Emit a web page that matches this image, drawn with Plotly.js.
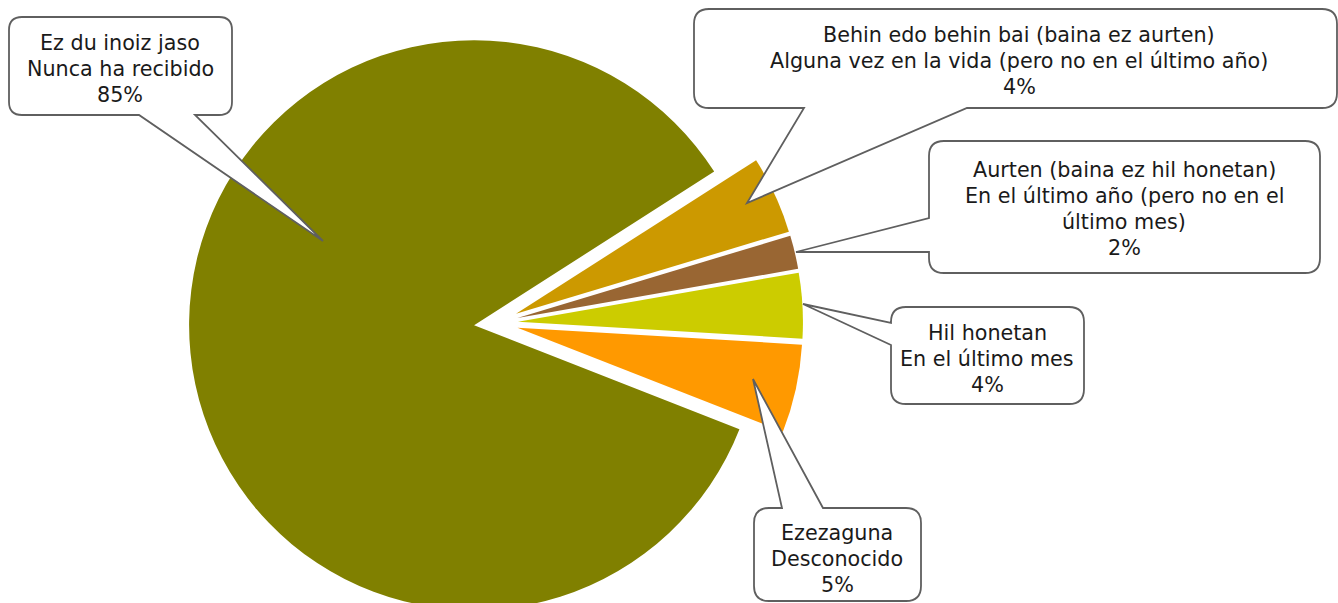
<!DOCTYPE html>
<html>
<head>
<meta charset="utf-8">
<script src="https://cdn.plot.ly/plotly-3.0.1.min.js"></script>
<style>
html,body{margin:0;padding:0;overflow:hidden;background:#fff;}
#chart{width:1338px;height:630px;}
</style>
</head>
<body>
<div id="chart"></div>
<script>
// ---- data ----
const labelsEu = ['Behin edo behin bai (baina ez aurten)', 'Aurten (baina ez hil honetan)', 'Hil honetan', 'Ezezaguna', 'Ez du inoiz jaso'];
const labelsEs = ['Alguna vez en la vida (pero no en el último año)', 'En el último año (pero no en el<br>último mes)', 'En el último mes', 'Desconocido', 'Nunca ha recibido'];
const shares = [4.4, 1.9, 3.7, 5.0, 85.0];
const pctLabels = ['4%', '2%', '4%', '5%', '85%'];

// ---- styles ----
const sliceColors = ['#CC9900', '#996633', '#CCCC00', '#FF9900', '#808000'];

// ---- layout geometry (pixels) ----
const FIG_W = 1338, FIG_H = 630, M_T = 16, M_B = 0;
const PLOT_H = FIG_H - M_T - M_B;
const LINE_GAP = 26;
const px = x => x / FIG_W;
const py = y => 1 - (y - M_T) / PLOT_H;

const bubbles = [
  {x0: 694, y0: 9,   x1: 1337, y1: 108, r: 15, side: 'bottom', p0: 804, p1: 967, tip: [747, 203], cx: 1019, cy: 61},
  {x0: 929, y0: 141, x1: 1320, y1: 273, r: 15, side: 'left',   p0: 218, p1: 252, tip: [796, 252], cx: 1124, cy: 208.5},
  {x0: 891, y0: 307, x1: 1084, y1: 404, r: 15, side: 'left',   p0: 323, p1: 345, tip: [803, 304], cx: 987, cy: 358.5},
  {x0: 754, y0: 508, x1: 921,  y1: 601, r: 15, side: 'top',    p0: 782, p1: 823, tip: [753, 379], cx: 837, cy: 558.5},
  {x0: 9,   y0: 17,  x1: 232,  y1: 115, r: 13, side: 'bottom', p0: 139, p1: 195, tip: [323, 241], cx: 120, cy: 69}
];

function pt(x, y) { return px(x).toFixed(5) + ',' + py(y).toFixed(5); }

function bubblePath(b) {
  const {x0, y0, x1, y1, r, side, p0, p1, tip} = b;
  let d = 'M' + pt(x0 + r, y0);
  if (side === 'top') d += ' L' + pt(p0, y0) + ' L' + pt(tip[0], tip[1]) + ' L' + pt(p1, y0);
  d += ' L' + pt(x1 - r, y0) + ' Q' + pt(x1, y0) + ' ' + pt(x1, y0 + r);
  d += ' L' + pt(x1, y1 - r) + ' Q' + pt(x1, y1) + ' ' + pt(x1 - r, y1);
  if (side === 'bottom') d += ' L' + pt(p1, y1) + ' L' + pt(tip[0], tip[1]) + ' L' + pt(p0, y1);
  d += ' L' + pt(x0 + r, y1) + ' Q' + pt(x0, y1) + ' ' + pt(x0, y1 - r);
  if (side === 'left') d += ' L' + pt(x0, p1) + ' L' + pt(tip[0], tip[1]) + ' L' + pt(x0, p0);
  d += ' L' + pt(x0, y0 + r) + ' Q' + pt(x0, y0) + ' ' + pt(x0 + r, y0) + ' Z';
  return d;
}

const shapes = bubbles.map(b => ({
  type: 'path', xref: 'paper', yref: 'paper', layer: 'above',
  path: bubblePath(b),
  fillcolor: '#ffffff',
  line: {color: '#5f5f5f', width: 1.8}
}));

const annotations = [];
bubbles.forEach((b, i) => {
  const lines = [labelsEu[i]].concat(labelsEs[i].split('<br>'), [pctLabels[i]]);
  const n = lines.length;
  lines.forEach((t, k) => {
    annotations.push({
      xref: 'paper', yref: 'paper',
      x: px(b.cx), y: py(b.cy + (k - (n - 1) / 2) * LINE_GAP),
      xanchor: 'center', yanchor: 'middle', showarrow: false, align: 'center',
      text: t,
      font: {family: 'DejaVu Sans', size: 20.7, color: '#1a1a1a'}
    });
  });
});

const trace = {
  type: 'pie',
  values: shares,
  labels: labelsEs,
  sort: false,
  direction: 'clockwise',
  rotation: 57.4,
  pull: shares.map(() => 0.0772),
  marker: {colors: sliceColors, line: {width: 0}},
  textinfo: 'none',
  hoverinfo: 'none',
  showlegend: false,
  domain: {x: [0.14, 0.6014], y: [0, 1]}
};

const layout = {
  width: FIG_W, height: FIG_H,
  margin: {l: 0, r: 0, t: M_T, b: M_B, pad: 0},
  paper_bgcolor: '#ffffff',
  showlegend: false,
  shapes: shapes,
  annotations: annotations
};

Plotly.newPlot('chart', [trace], layout, {staticPlot: true, displayModeBar: false});
</script>
</body>
</html>
